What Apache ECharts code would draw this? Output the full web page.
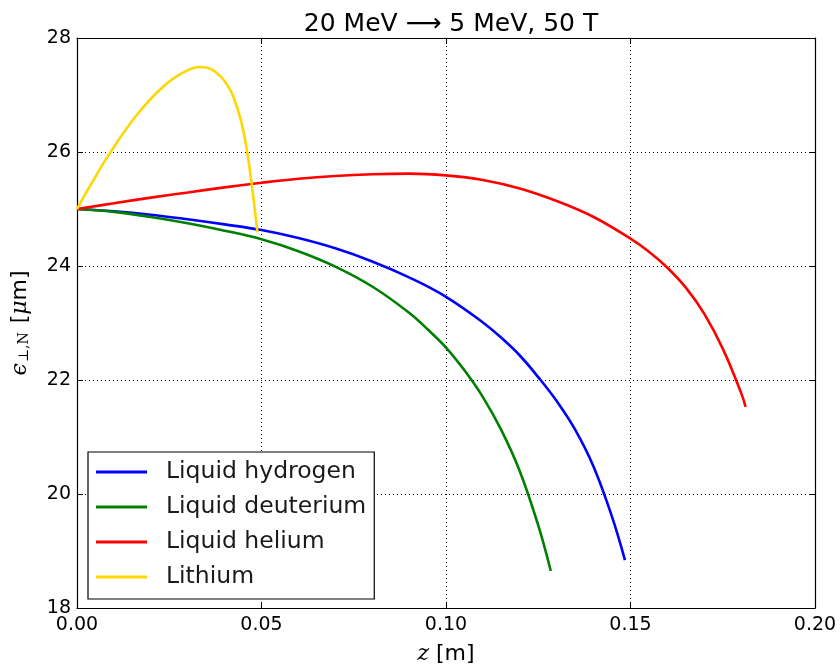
<!DOCTYPE html>
<html>
<head>
<meta charset="utf-8">
<script src="https://cdn.jsdelivr.net/npm/echarts@6/dist/echarts.min.js"></script>
<style>html,body{margin:0;padding:0;background:#fff;}#c{width:840px;height:670px;}</style>
</head>
<body>
<div id="c"></div>
<script>
// ---- data ----
const titleText = '20 MeV \u27F6 5 MeV, 50 T';
const seriesNames = ['Liquid hydrogen', 'Liquid deuterium', 'Liquid helium', 'Lithium'];
const seriesColors = ['#0000ff', '#008000', '#ff0000', '#ffd700'];

const hydrogenZ   = [0, 0.01, 0.02, 0.03, 0.04, 0.05, 0.06, 0.07, 0.08, 0.09, 0.10, 0.11, 0.115, 0.12, 0.125, 0.13, 0.135, 0.14, 0.145, 0.1485];
const hydrogenEps = [25.0, 24.96, 24.90, 24.82, 24.73, 24.63, 24.49, 24.31, 24.08, 23.80, 23.46, 23.01, 22.74, 22.43, 22.05, 21.63, 21.13, 20.48, 19.60, 18.84];

const deuteriumZ   = [0, 0.01, 0.02, 0.03, 0.04, 0.05, 0.06, 0.07, 0.08, 0.09, 0.095, 0.10, 0.105, 0.11, 0.115, 0.12, 0.125, 0.1284];
const deuteriumEps = [25.0, 24.95, 24.86, 24.75, 24.62, 24.47, 24.26, 23.99, 23.64, 23.18, 22.89, 22.57, 22.17, 21.70, 21.12, 20.40, 19.45, 18.65];

const heliumZ   = [0, 0.01, 0.02, 0.03, 0.04, 0.05, 0.06, 0.07, 0.08, 0.09, 0.10, 0.11, 0.12, 0.13, 0.14, 0.15, 0.155, 0.16, 0.165, 0.17, 0.175, 0.18, 0.1812];
const heliumEps = [25.0, 25.10, 25.20, 25.29, 25.38, 25.46, 25.53, 25.58, 25.61, 25.62, 25.59, 25.51, 25.36, 25.14, 24.86, 24.48, 24.25, 23.97, 23.62, 23.16, 22.55, 21.77, 21.53];

const lithiumZ   = [0, 0.0035, 0.0089, 0.0162, 0.0234, 0.0290, 0.0333, 0.0365, 0.0388, 0.0406, 0.0424, 0.0446, 0.0460, 0.0473, 0.0489];
const lithiumEps = [25.0, 25.40, 25.98, 26.65, 27.15, 27.40, 27.49, 27.45, 27.33, 27.19, 26.97, 26.51, 26.05, 25.46, 24.59];

const xTicks = [0, 0.05, 0.10, 0.15, 0.20];
const yTicks = [18, 20, 22, 24, 26, 28];

// ---- build ----
const zs = [hydrogenZ, deuteriumZ, heliumZ, lithiumZ];
const es = [hydrogenEps, deuteriumEps, heliumEps, lithiumEps];
const font = 'DejaVu Sans';

const series = seriesNames.map((n, i) => ({
  name: n,
  type: 'line',
  data: zs[i].map((z, k) => [z, es[i][k]]),
  smooth: 0.4,
  showSymbol: false,
  symbol: 'none',
  lineStyle: { color: seriesColors[i], width: 2.6 },
  itemStyle: { color: seriesColors[i] },
  z: 3 + i
}));

const grid = { left: 77, right: 25, top: 38, bottom: 60 };
const xMin = xTicks[0], xMax = xTicks[xTicks.length - 1];
const yMin = yTicks[0], yMax = yTicks[yTicks.length - 1];

const commonAxisLine = { show: true, onZero: false, lineStyle: { color: '#000', width: 1.2 } };
const tick = { show: true, inside: true, length: 6, lineStyle: { color: '#000', width: 1 } };
const grd = { show: true, lineStyle: { color: '#000', type: [1, 3], width: 1 } };

const option = {
  animation: false,
  backgroundColor: '#fff',
  title: {
    text: titleText,
    left: 446, textAlign: 'center',
    top: 7,
    textStyle: { fontFamily: font, fontSize: 25, fontWeight: 'normal', color: '#000' }
  },
  grid: grid,
  legend: {
    orient: 'vertical',
    left: 88, top: 452,
    data: seriesNames.map((n, i) => ({ name: n, icon: 'rect', itemStyle: { color: seriesColors[i] } })),
    itemWidth: 51, itemHeight: 3,
    itemGap: 11,
    padding: [8, 8, 10, 8],
    borderColor: '#000', borderWidth: 1.2, borderRadius: 0,
    backgroundColor: '#fff',
    textStyle: { fontFamily: font, fontSize: 23.5, color: '#1a1a1a', padding: [0, 0, 0, 14], lineHeight: 22 }
  },
  xAxis: [{
    type: 'value', min: xMin, max: xMax, interval: 0.05,
    position: 'bottom',
    axisLine: commonAxisLine, axisTick: tick, splitLine: grd,
    axisLabel: { color: '#000', fontFamily: font, fontSize: 19, margin: 8, formatter: v => v.toFixed(2) },
    name: '{z|z} [m]', nameLocation: 'middle', nameGap: 35,
    nameTextStyle: {
      fontFamily: font, fontSize: 22, color: '#000',
      rich: { z: { fontFamily: 'DejaVu Serif', fontStyle: 'italic', fontSize: 22, color: '#000' } }
    }
  }, {
    type: 'value', min: xMin, max: xMax, interval: 0.05,
    position: 'top',
    axisLine: commonAxisLine, axisTick: tick, splitLine: { show: false },
    axisLabel: { show: false }
  }],
  yAxis: [{
    type: 'value', min: yMin, max: yMax, interval: 2,
    position: 'left',
    axisLine: commonAxisLine, axisTick: tick, splitLine: grd,
    axisLabel: { color: '#000', fontFamily: font, fontSize: 19, margin: 6 },
    name: '{e|\u03F5}{s|\u22A5,N} [{m|\u03BC}m]', nameLocation: 'middle', nameGap: 46, nameRotate: 90,
    nameTextStyle: {
      fontFamily: font, fontSize: 22, color: '#000',
      rich: {
        e: { fontFamily: 'DejaVu Serif', fontStyle: 'italic', fontSize: 22, color: '#000' },
        s: { fontFamily: 'DejaVu Serif', fontSize: 14, color: '#000', verticalAlign: 'bottom', padding: [8, 2, 0, 1] },
        m: { fontFamily: 'DejaVu Serif', fontStyle: 'italic', fontSize: 22, color: '#000' }
      }
    }
  }, {
    type: 'value', min: yMin, max: yMax, interval: 2,
    position: 'right',
    axisLine: commonAxisLine, axisTick: tick, splitLine: { show: false },
    axisLabel: { show: false }
  }],
  series: series
};

const chart = echarts.init(document.getElementById('c'), null, { renderer: 'canvas' });
chart.setOption(option);
</script>
</body>
</html>
